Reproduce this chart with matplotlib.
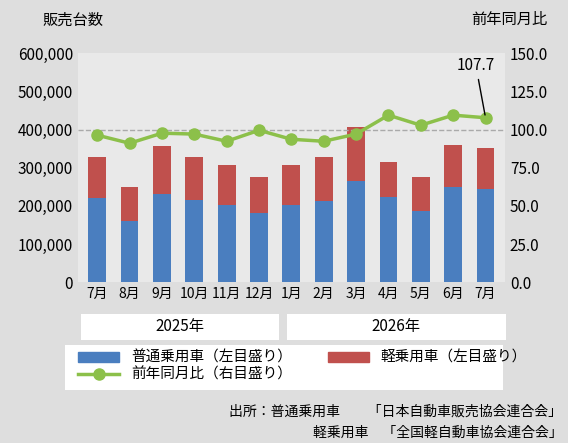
import matplotlib
matplotlib.use("Agg")
import matplotlib.pyplot as plt
import numpy as np
from matplotlib.patches import Rectangle

plt.rcParams['font.family'] = ['Noto Sans CJK JP', 'DejaVu Sans']

months = ['7月','8月','9月','10月','11月','12月','1月','2月','3月','4月','5月','6月','7月']
futsu = [220000,160000,230000,215000,202000,181000,202000,212000,264000,222000,186000,249000,244000]
total = [327000,249000,356000,327000,306000,275000,306000,327000,406000,314000,275000,359000,351000]
kei = [t-f for t,f in zip(total,futsu)]
yoy = [96.3,91.0,97.6,97.0,92.3,99.5,93.6,92.3,97.0,109.4,102.8,109.4,107.7]
years = ['2025年','2026年']

fig = plt.figure(figsize=(5.68,4.43), dpi=100, facecolor='#dedede')
ax = fig.add_axes([0.137,0.363,0.752,0.517])
ax.set_facecolor((1,1,1,0.35))
x = np.arange(len(months))
ax.bar(x, futsu, width=0.55, color='#4a7ebf', zorder=2)
ax.bar(x, kei, bottom=futsu, width=0.55, color='#c0504d', zorder=2)
ax.set_ylim(0,600000)
ax.set_xlim(-0.6,len(months)-0.4)
ax.set_yticks(range(0,600001,100000))
ax.set_yticklabels([f'{v:,}' for v in range(0,600001,100000)], fontsize=11)
ax.set_xticks(x)
ax.set_xticklabels(months, fontsize=10)
ax.tick_params(length=0)
for s in ax.spines.values(): s.set_visible(False)

ax2 = ax.twinx()
ax2.set_ylim(0,150)
ax2.set_yticks(np.arange(0,150.1,25))
ax2.set_yticklabels([f'{v:.1f}' for v in np.arange(0,150.1,25)], fontsize=11)
ax2.tick_params(length=0)
for s in ax2.spines.values(): s.set_visible(False)
ax2.axhline(100, color='#aaaaaa', ls='--', lw=1, zorder=1)
ax2.plot(x, yoy, color='#8cc04a', lw=2.5, marker='o', ms=8, zorder=3)
ax2.annotate(f'{yoy[-1]}', xy=(x[-1], yoy[-1]), xytext=(x[-1]-0.3, 139),
             fontsize=11, ha='center', arrowprops=dict(arrowstyle='-', color='black', lw=1))

fig.text(0.075,0.945,'販売台数',fontsize=11)
fig.text(0.83,0.945,'前年同月比',fontsize=11)

fig.patches.append(Rectangle((0.142,0.232),0.35,0.06,transform=fig.transFigure,facecolor='white',edgecolor='none'))
fig.patches.append(Rectangle((0.505,0.232),0.385,0.06,transform=fig.transFigure,facecolor='white',edgecolor='none'))
fig.text(0.317,0.262,years[0],ha='center',va='center',fontsize=11)
fig.text(0.697,0.262,years[1],ha='center',va='center',fontsize=11)

fig.patches.append(Rectangle((0.115,0.12),0.77,0.102,transform=fig.transFigure,facecolor='white',edgecolor='none'))
from matplotlib.lines import Line2D
from matplotlib.patches import Patch
h = [Patch(color='#4a7ebf'), Line2D([],[],color='#8cc04a',lw=2.5,marker='o',ms=8),
     Patch(color='#c0504d')]
fig.legend(h, ['普通乗用車（左目盛り）','前年同月比（右目盛り）','軽乗用車（左目盛り）'],
           ncol=2, loc='lower left', bbox_to_anchor=(0.12,0.115), frameon=False,
           fontsize=10.5, handlelength=2.8, columnspacing=2.5, handleheight=0.7,
           labelspacing=0.2, borderpad=0.2)

fig.text(0.99,0.062,'出所：普通乗用車　　「日本自動車販売協会連合会」',fontsize=10,ha='right')
fig.text(0.99,0.015,'軽乗用車　「全国軽自動車協会連合会」',fontsize=10,ha='right')

fig.savefig('out.png', dpi=100, facecolor=fig.get_facecolor())
